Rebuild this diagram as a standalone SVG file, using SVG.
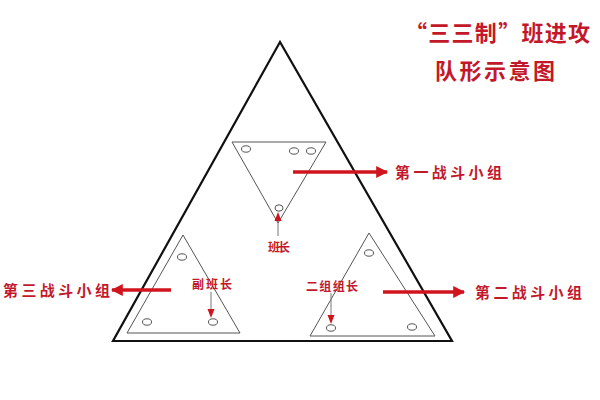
<svg xmlns="http://www.w3.org/2000/svg" width="600" height="400" viewBox="0 0 600 400">
<defs>
<style>
.big{fill:none;stroke:#111;stroke-width:2.2;stroke-linejoin:miter}
.sub{fill:none;stroke:#555;stroke-width:1}
.dot{fill:#fff;stroke:#555;stroke-width:1}
.red{stroke:#d0141e;stroke-width:3.5;fill:none}
.lead{stroke:#777;stroke-width:1;fill:none}
.title{font-family:"Noto Sans CJK SC","Noto Sans",sans-serif;font-weight:bold;font-size:22px;fill:#c3182a}
.lbl{font-family:"Noto Sans CJK SC","Noto Sans",sans-serif;font-weight:bold;font-size:15px;fill:#c3182a}
.sm{font-family:"Noto Sans CJK SC","Noto Sans",sans-serif;font-weight:bold;font-size:12px;fill:#c3182a}
</style>
<marker id="ah" viewBox="0 0 10 10" refX="9" refY="5" markerWidth="12" markerHeight="12" markerUnits="userSpaceOnUse" orient="auto">
<path d="M0,0 L10,5 L0,10 z" fill="#d0141e"/>
</marker>
</defs>
<rect width="600" height="400" fill="#fff"/>
<g id="title">
<text class="title" x="405" y="41" textLength="185" lengthAdjust="spacing">“三三制”班进攻</text>
<text class="title" x="435" y="79" textLength="120" lengthAdjust="spacing">队形示意图</text>
</g>
<g id="formation">
<polygon class="big" points="280,42 113,341 452,341"/>
</g>
<g id="group1">
<polygon class="sub" points="232,142 326,142 278,223"/>
<ellipse class="dot" cx="246" cy="149" rx="4.5" ry="3.2"/>
<ellipse class="dot" cx="294" cy="151" rx="4.5" ry="3.2"/>
<ellipse class="dot" cx="311" cy="151" rx="4.5" ry="3.2"/>
<ellipse class="dot" cx="279" cy="208" rx="4" ry="3.2"/>
<line class="lead" x1="278" y1="220" x2="278" y2="236"/>
<polygon points="278,212 274.5,221 281.5,221" fill="#d0141e"/>
<text class="sm" x="268" y="252" textLength="22" lengthAdjust="spacing">班长</text>
</g>
<g id="group3">
<polygon class="sub" points="183,235 127,333 240,333"/>
<ellipse class="dot" cx="182" cy="257" rx="4.5" ry="3.2"/>
<ellipse class="dot" cx="147" cy="322" rx="4.5" ry="3.2"/>
<ellipse class="dot" cx="213" cy="322" rx="4.5" ry="3.2"/>
<line class="lead" x1="211" y1="292" x2="211" y2="310"/>
<polygon points="211,318 207.5,309 214.5,309" fill="#d0141e"/>
<text class="sm" x="192" y="289" textLength="40" lengthAdjust="spacing">副班长</text>
</g>
<g id="group2">
<polygon class="sub" points="369,233 310,336 435,336"/>
<ellipse class="dot" cx="369" cy="253" rx="4.5" ry="3.2"/>
<ellipse class="dot" cx="331" cy="328" rx="4.5" ry="3.2"/>
<ellipse class="dot" cx="412" cy="327" rx="4.5" ry="3.2"/>
<line class="lead" x1="331" y1="293" x2="331" y2="316"/>
<polygon points="331,324 327.5,315 334.5,315" fill="#d0141e"/>
<text class="sm" x="306" y="291" textLength="52" lengthAdjust="spacing">二组组长</text>
</g>
<g id="connectors">
<line class="red" x1="293" y1="172" x2="387" y2="172" marker-end="url(#ah)"/>
<line class="red" x1="171" y1="290" x2="112" y2="290" marker-end="url(#ah)"/>
<line class="red" x1="383" y1="292" x2="464" y2="292" marker-end="url(#ah)"/>
</g>
<g id="labels">
<text class="lbl" x="395" y="178" textLength="107" lengthAdjust="spacing">第一战斗小组</text>
<text class="lbl" x="3" y="296" textLength="107" lengthAdjust="spacing">第三战斗小组</text>
<text class="lbl" x="475" y="298" textLength="107" lengthAdjust="spacing">第二战斗小组</text>
</g>
</svg>
